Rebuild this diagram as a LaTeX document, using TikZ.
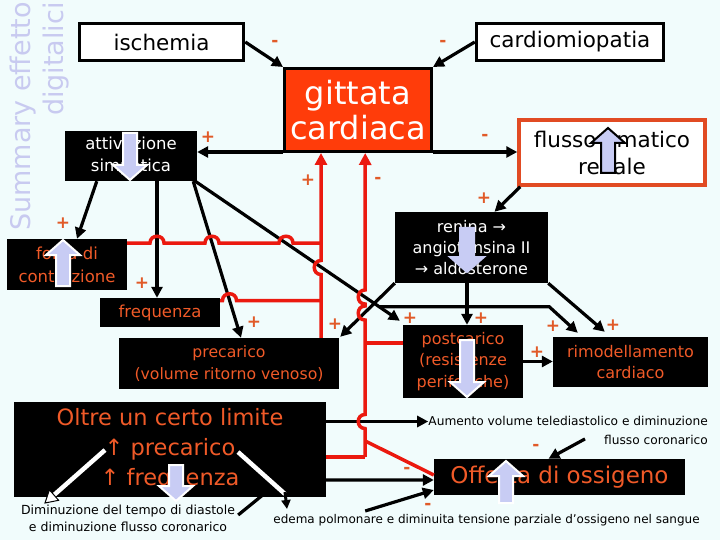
\documentclass[tikz,border=0pt]{standalone}
\usepackage{fontspec}
\setmainfont{DejaVu Sans}
\usetikzlibrary{arrows.meta,calc}
\definecolor{bgc}{RGB}{241,252,252}
\definecolor{lav}{RGB}{200,204,244}
\definecolor{gitc}{RGB}{255,60,10}
\definecolor{txr}{RGB}{240,90,40}
\definecolor{lblc}{RGB}{225,90,40}
\definecolor{redl}{RGB}{235,25,15}
\definecolor{flc}{RGB}{225,75,35}
\definecolor{ttl}{RGB}{200,202,240}
\newcommand{\fatarr}[5]{\filldraw[fill=lav,draw=#5,line width=2pt,line join=miter,shift={(#1,#2)},yscale=#4] (-7,0)--(7,0)--(7,#3-15)--(17,#3-15)--(0,#3)--(-17,#3-15)--(-7,#3-15)--cycle;}
\newcommand{\hhop}[2]{-- (#1-7,#2) .. controls (#1-7,#2-9) and (#1+7,#2-9) .. (#1+7,#2)}
\newcommand{\vhop}[2]{-- (#1,#2+7) .. controls (#1-9,#2+7) and (#1-9,#2-7) .. (#1,#2-7)}
\begin{document}
\begin{tikzpicture}[x=1pt,y=-1pt,
  box/.style={draw=black,line width=3.5pt,fill=white,inner sep=0pt,align=center},
  blk/.style={fill=black,inner sep=0pt,align=center,text=txr},
  ar/.style={draw=black,line width=3.2pt,-{Triangle[length=11pt,width=11pt]}},
  rl/.style={draw=redl,line width=3.5pt},
  ra/.style={draw=redl,line width=3.5pt,-{Triangle[length=12pt,width=12pt]}},
  lbl/.style={text=lblc,inner sep=0pt,font=\fontsize{17}{17}\selectfont\bfseries},
  note/.style={inner sep=0pt,text=black}]
\fill[bgc] (0,0) rectangle (720,540);
\useasboundingbox (0,0) rectangle (720,540);
% title
\node[rotate=90,anchor=east,inner sep=0pt,text=ttl,font=\fontsize{27}{27}\selectfont] (t1) at (23,2) {Summary effetto};
\node[rotate=90,anchor=east,inner sep=0pt,text=ttl,font=\fontsize{27}{27}\selectfont] (t2) at (56,2) {digitalici};
% nodes
\node[box,minimum width=164,minimum height=37,font=\fontsize{21.5}{25}\selectfont] (isch) at (161.5,42) {ischemia};
\node[box,minimum width=187,minimum height=37,font=\fontsize{21.5}{25}\selectfont] (cardio) at (570,42) {cardiomiopatia};
\node[draw=black,line width=3pt,fill=gitc,text=white,inner sep=0pt,align=center,minimum width=147,minimum height=83,font=\fontsize{32}{35}\selectfont] (gitt) at (358,110) {gittata\\cardiaca};
\node[blk,text=white,minimum width=132,minimum height=50,font=\fontsize{16.5}{22}\selectfont] (attiv) at (131,156) {attivazione\\simpatica};
\node[box,draw=flc,line width=3.5pt,minimum width=186,minimum height=65,font=\fontsize{21.5}{27}\selectfont] (flusso) at (612,152.5) {flusso ematico\\renale};
\node[blk,minimum width=120,minimum height=51,font=\fontsize{16.5}{23}\selectfont] (forza) at (67,264.5) {forza di\\contrazione};
\node[blk,minimum width=120,minimum height=29,font=\fontsize{16.5}{20}\selectfont] (freq) at (160,312.5) {frequenza};
\node[blk,minimum width=220,minimum height=51,font=\fontsize{15.7}{22}\selectfont] (prec) at (229,363.5) {precarico\\(volume ritorno venoso)};
\node[blk,text=white,minimum width=153,minimum height=71,font=\fontsize{16}{21}\selectfont] (ren) at (471.5,247.5) {renina →\\angiotensina II\\→ aldosterone};
\node[blk,minimum width=120,minimum height=73,font=\fontsize{16}{21.5}\selectfont] (post) at (463,361.5) {postcarico\\(resistenze\\periferiche)};
\node[blk,minimum width=155,minimum height=50,font=\fontsize{16}{21}\selectfont] (rimo) at (630.5,362) {rimodellamento\\cardiaco};
\node[blk,minimum width=312,minimum height=95,font=\fontsize{22.5}{30}\selectfont] (oltre) at (170,449.5) {Oltre un certo limite\\↑ precarico\\↑ frequenza};
\node[blk,minimum width=251,minimum height=36,font=\fontsize{23}{26}\selectfont] (offer) at (559.5,477) {Offerta di ossigeno};
% plain texts
\node[note,align=center,font=\fontsize{12.5}{17}\selectfont] (dimin) at (128,518) {Diminuzione del tempo di diastole\\e diminuzione flusso coronarico};
\node[note,align=right,anchor=east,font=\fontsize{12.2}{19}\selectfont] (aum) at (708,430.5) {Aumento volume telediastolico e diminuzione\\flusso coronarico};
\node[note,font=\fontsize{12}{14}\selectfont] (edema) at (486.5,520) {edema polmonare e diminuita tensione parziale d’ossigeno nel sangue};
% black connectors
\draw[ar] (isch.east) -- (gitt.north west);
\draw[ar] (cardio.west) -- (gitt.north east);
\coordinate (gL) at ([shift={(0,-1)}]gitt.south west);
\coordinate (gR) at ([shift={(0,-1)}]gitt.south east);
\draw[ar] (gL) -- (gL -| attiv.east);
\draw[ar] (gR) -- (gR -| flusso.west);
\draw[ar] ([xshift=3]flusso.south west) -- ([xshift=23]ren.north);
\draw[ar] ([xshift=32]attiv.south west) -- ([xshift=10]forza.north);
\coordinate (aF) at ([xshift=-3]freq.north);
\draw[ar] (aF |- attiv.south) -- (aF);
\draw[ar] ([xshift=-4]attiv.south east) -- ([xshift=12]prec.north);
\coordinate (dA) at ([xshift=-2]attiv.south east);
\coordinate (dB) at ([shift={(-3,-4)}]post.north west);
\draw[ar] (dA) -- (dB);
\coordinate (br) at ($(dA)!0.9!(dB)$);
\draw[ar] (br) -- ++(170,0) -- ([shift={(25,-4)}]rimo.north west);
\draw[ar] (ren.south west) -- ([shift={(1,-1)}]prec.north east);
\draw[ar] ([xshift=-4.5]ren.south) -- ([xshift=4]post.north);
\draw[ar] (ren.south east) -- ([shift={(52,-5)}]rimo.north west);
\draw[ar] (post.east) -- (post.east -| rimo.west);
\coordinate (oA) at ([shift={(0,-28)}]oltre.east);
\draw[ar] (oA) -- (oA -| aum.west);
\draw[ar] ([shift={(3,-3)}]dimin.east) -- ++(43,-35) -- ([shift={(0,3)}]offer.west);
\draw[ar] ([shift={(92,-3)}]edema.north west) -- ([shift={(0,13)}]offer.west);
\draw[ar] ([shift={(-123,-6)}]aum.south east) -- ([xshift=-11]offer.north);
% red bus lines
\draw[rl] ([shift={(0,-21.5)}]forza.east) \hhop{157}{243} \hhop{212}{243} \hhop{286}{243} -- (321,243);
\draw[rl] ([shift={(0,-12)}]freq.east) \hhop{229.5}{300.5} -- (321,300.5);
\coordinate (b1) at ($(prec.north)+(92,0)$);
\draw[ra] (b1) \vhop{321}{267.5} -- (b1 |- gitt.south);
\coordinate (b2) at ($(oltre.east)+(39,7.5)$);
\draw[ra] (b2) \vhop{365}{421.5} \vhop{365}{313} \vhop{365}{297} -- (b2 |- gitt.south);
\draw[rl] ([shift={(0,7.5)}]oltre.east) -- (b2);
\draw[rl] ($(post.west)+(-38,-18.5)$) -- ([shift={(0,-18.5)}]post.west);
\draw[rl] ($(b2)+(0,-16)$) -- ([shift={(0,-2)}]offer.west);
% white arrows from Oltre text
\draw[white,line width=4.5pt] (105,450) -- (54,495);
\filldraw[fill=white,draw=black,line width=1pt] (45,503) -- (58.6,500.3) -- (49.4,489.8) -- cycle;
\draw[white,line width=4.5pt] (238,452) -- (285,494);
\draw[line width=3pt,-{Triangle[length=9pt,width=9pt]}] (285,492) -- (287,509);
% labels
\node[lbl] (l1) at (275,43) {-};
\node[lbl] (l2) at (443,43) {-};
\node[lbl] (l3) at (208,137) {+};
\node[lbl] (l4) at (485,137) {-};
\node[lbl] (l5) at (308,180) {+};
\node[lbl] (l6) at (378,180) {-};
\node[lbl] (l7) at (484,198) {+};
\node[lbl] (l8) at (63,223) {+};
\node[lbl] (l9) at (142,283) {+};
\node[lbl] (l10) at (254,322) {+};
\node[lbl] (l11) at (335,324) {+};
\node[lbl] (l12) at (410,318) {+};
\node[lbl] (l13) at (481,318) {+};
\node[lbl] (l14) at (553,326) {+};
\node[lbl] (l15) at (613,325) {+};
\node[lbl] (l16) at (537,352) {+};
\node[lbl] (l17) at (536,447) {-};
\node[lbl] (l18) at (407,470) {-};
\node[lbl] (l19) at (428,506) {-};
% lavender block arrows
\fatarr{130}{133}{47}{1}{white}
\fatarr{608}{173}{45}{-1}{black}
\fatarr{63}{286}{46}{-1}{white}
\fatarr{467}{228}{44}{1}{lav}
\fatarr{467}{340}{57}{1}{white}
\fatarr{176}{465}{36}{1}{white}
\fatarr{506}{503}{42}{-1}{white}
\end{tikzpicture}
\end{document}
